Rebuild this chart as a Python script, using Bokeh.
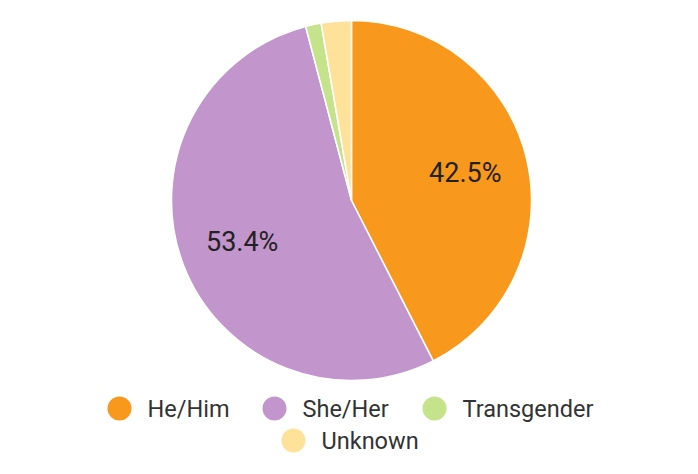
import math
from bokeh.plotting import figure
from bokeh.models import Range1d, ColumnDataSource
from bokeh.core.properties import value
from bokeh.embed import file_html
from bokeh.resources import INLINE

categories = ["He/Him", "She/Her", "Transgender", "Unknown"]
shares = [42.5, 53.4, 1.4, 2.7]
colors = ["#F8981D", "#C295CD", "#C5E38A", "#FFE29A"]

W, H = 682, 458
p = figure(width=W, height=H, output_backend="svg", toolbar_location=None,
           x_range=Range1d(0, W), y_range=Range1d(0, H), min_border=0)
p.axis.visible = False
p.grid.visible = False
p.outline_line_color = None
p.background_fill_color = "white"
p.border_fill_color = "white"

cx, cy, R = 351, H - 200, 180
total = sum(shares)
starts, ends, lx, ly, labels = [], [], [], [], []
cum = 0.0
for s in shares:
    a0 = math.pi / 2 - 2 * math.pi * cum / total
    a1 = math.pi / 2 - 2 * math.pi * (cum + s) / total
    starts.append(a0)
    ends.append(a1)
    mid = (a0 + a1) / 2
    lx.append(cx + 0.65 * R * math.cos(mid))
    ly.append(cy + 0.65 * R * math.sin(mid))
    labels.append(f"{s:.1f}%" if s / total > 0.05 else "")
    cum += s

src = ColumnDataSource(dict(start=starts, end=ends, color=colors))
p.wedge(x=cx, y=cy, radius=R, start_angle="start", end_angle="end",
        direction="clock", fill_color="color", line_color="white",
        line_width=1.5, source=src)

p.text(x=lx, y=ly, text=labels, text_font=value("Roboto"),
       text_font_size="27px", text_color="#222222",
       text_align="center", text_baseline="middle")

# legend
leg_circle_x = [119, 274, 434, 293]
leg_y = [H - 408, H - 408, H - 408, H - 440]
p.scatter(x=leg_circle_x, y=leg_y, size=24, marker="circle",
          fill_color=colors, line_color=None)
p.text(x=[x + 28 for x in leg_circle_x], y=leg_y, text=categories,
       text_font=value("Roboto"), text_font_size="23.5px",
       text_color="#333333", text_align="left", text_baseline="middle")

open("out.html", "w").write(file_html(p, INLINE))
